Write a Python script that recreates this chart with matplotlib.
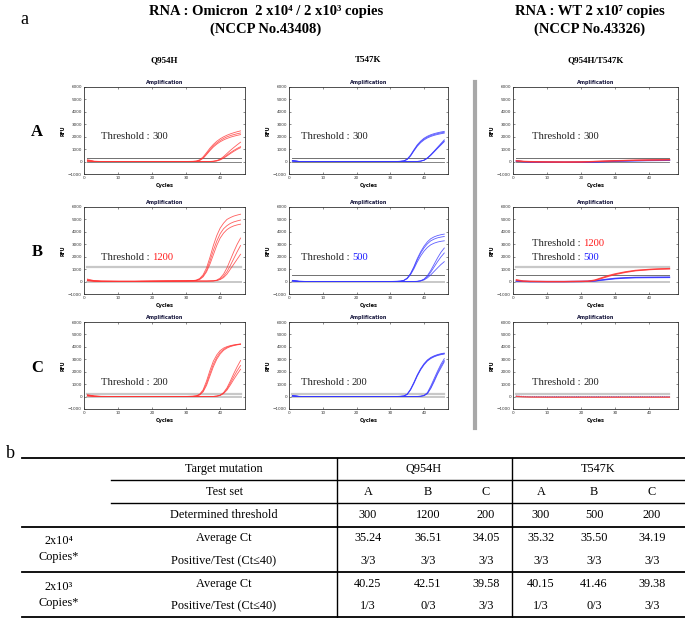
import matplotlib
matplotlib.use("Agg")
import matplotlib.pyplot as plt
from matplotlib.lines import Line2D

plt.rcParams['font.family'] = ['Liberation Serif', 'DejaVu Serif']

# ---------------- data ----------------
CYC = [1, 3, 5, 10, 15, 20, 25, 30, 32, 33, 34, 35, 36, 37, 38, 39, 40, 41, 42, 43, 44, 45, 46]
CYC_WT = [1, 3, 5, 10, 15, 20, 22, 24, 26, 28, 30, 33, 36, 40, 43, 46]

# Row A
a_q = [
    [150, 30, 10, 0, 0, 0, 0, 10, 20, 40, 150, 380, 720, 1080, 1380, 1630, 1830, 1990, 2120, 2230, 2320, 2400, 2470],
    [100, 20, 5, 0, 0, 0, 0, 5, 15, 30, 110, 300, 620, 960, 1260, 1500, 1700, 1860, 1990, 2090, 2170, 2240, 2300],
    [60, 10, 0, 0, 0, 0, 0, 5, 10, 25, 90, 260, 560, 880, 1170, 1400, 1590, 1740, 1860, 1960, 2040, 2110, 2170],
    [50, 10, 0, 0, 0, 0, 0, 0, 0, 0, 0, 0, 5, 10, 30, 80, 200, 400, 650, 900, 1130, 1350, 1560],
    [40, 10, 0, 0, 0, 0, 0, 0, 0, 0, 0, 0, 0, 5, 20, 60, 160, 320, 520, 720, 900, 1060, 1200],
    [30, 5, 0, 0, 0, 0, 0, 0, 0, 0, 0, 0, 0, 5, 15, 50, 130, 270, 450, 640, 820, 980, 1120],
]
a_t = [
    [80, 10, 0, 0, 0, 0, 0, 0, 10, 20, 60, 200, 520, 950, 1350, 1650, 1880, 2040, 2160, 2250, 2320, 2380, 2430],
    [60, 10, 0, 0, 0, 0, 0, 0, 10, 20, 50, 180, 480, 900, 1290, 1590, 1810, 1970, 2090, 2180, 2250, 2310, 2360],
    [50, 5, 0, 0, 0, 0, 0, 0, 5, 15, 45, 160, 440, 850, 1230, 1520, 1740, 1900, 2020, 2110, 2180, 2240, 2290],
    [60, 10, 0, 0, 0, 0, 0, 0, 0, 0, 0, 0, 0, 5, 10, 40, 120, 300, 560, 850, 1150, 1450, 1750],
    [50, 5, 0, 0, 0, 0, 0, 0, 0, 0, 0, 0, 0, 5, 10, 35, 110, 280, 530, 810, 1100, 1380, 1660],
    [40, 5, 0, 0, 0, 0, 0, 0, 0, 0, 0, 0, 0, 5, 10, 30, 100, 260, 500, 780, 1060, 1330, 1600],
]
a_w_red = [
    [80, 20, 0, -20, -30, -20, -10, 10, 30, 50, 70, 90, 110, 130, 140, 160],
    [50, 0, -20, -40, -50, -40, -20, 0, 20, 40, 60, 80, 100, 120, 130, 140],
]
a_w_blue = [
    [40, 0, -30, -40, -50, -50, -40, -20, 0, 20, 40, 60, 80, 100, 110, 120],
    [30, -10, -40, -50, -60, -60, -50, -40, -20, 0, 20, 40, 60, 80, 90, 100],
]

# Row B
b_q = [
    [200, 80, 40, 20, 20, 30, 40, 60, 80, 120, 250, 550, 1100, 1950, 2900, 3700, 4300, 4700, 5000, 5150, 5270, 5350, 5420],
    [150, 60, 30, 20, 20, 30, 40, 50, 70, 100, 200, 450, 900, 1650, 2500, 3250, 3850, 4250, 4500, 4680, 4800, 4880, 4950],
    [120, 50, 30, 20, 20, 30, 40, 50, 60, 90, 170, 380, 780, 1400, 2150, 2900, 3500, 3900, 4180, 4360, 4480, 4560, 4620],
    [100, 40, 20, 20, 20, 30, 40, 40, 40, 40, 40, 40, 40, 50, 60, 120, 280, 600, 1100, 1750, 2400, 3000, 3500],
    [80, 30, 20, 20, 20, 30, 40, 40, 40, 40, 40, 40, 40, 45, 55, 90, 200, 430, 800, 1300, 1850, 2400, 2900],
    [60, 30, 20, 20, 20, 30, 40, 40, 40, 40, 40, 40, 40, 45, 50, 80, 160, 320, 600, 1000, 1400, 1800, 2200],
]
b_t = [
    [100, 30, 10, 0, 0, 0, 0, 10, 20, 40, 100, 280, 650, 1200, 1850, 2400, 2850, 3200, 3450, 3600, 3700, 3770, 3820],
    [80, 20, 10, 0, 0, 0, 0, 10, 20, 35, 90, 260, 610, 1130, 1750, 2280, 2710, 3040, 3280, 3420, 3520, 3580, 3630],
    [60, 20, 5, 0, 0, 0, 0, 5, 15, 30, 80, 230, 550, 1020, 1580, 2060, 2450, 2750, 2960, 3090, 3180, 3240, 3280],
    [60, 10, 0, 0, 0, 0, 0, 0, 0, 0, 0, 0, 5, 10, 20, 70, 200, 480, 900, 1400, 1900, 2350, 2700],
    [50, 10, 0, 0, 0, 0, 0, 0, 0, 0, 0, 0, 5, 10, 15, 60, 170, 400, 760, 1180, 1600, 1980, 2300],
    [40, 5, 0, 0, 0, 0, 0, 0, 0, 0, 0, 0, 5, 10, 15, 50, 130, 300, 540, 820, 1100, 1370, 1600],
]
b_w_red = [
    [150, 40, 20, 0, 0, 20, 30, 120, 300, 480, 620, 780, 900, 980, 1020, 1050],
    [100, 30, 10, 0, 0, 10, 20, 90, 250, 420, 570, 740, 870, 960, 1000, 1020],
]
b_w_blue = [
    [50, 20, 0, 0, 0, 10, 20, 60, 130, 200, 260, 310, 340, 350, 355, 360],
    [40, 10, 0, 0, 0, 5, 15, 45, 110, 170, 230, 280, 310, 320, 325, 330],
]

# Row C
c_q = [
    [150, 50, 20, 0, 0, 0, 0, 10, 30, 60, 200, 550, 1250, 2100, 2850, 3350, 3700, 3900, 4020, 4100, 4160, 4200, 4240],
    [120, 40, 10, 0, 0, 0, 0, 10, 20, 50, 160, 450, 1050, 1850, 2600, 3150, 3550, 3800, 3960, 4060, 4130, 4180, 4220],
    [100, 30, 10, 0, 0, 0, 0, 5, 15, 40, 130, 380, 900, 1650, 2400, 3000, 3420, 3720, 3900, 4020, 4100, 4160, 4200],
    [80, 20, 0, 0, 0, 0, 0, 0, 0, 0, 0, 0, 0, 5, 10, 40, 120, 320, 700, 1250, 1850, 2400, 2900],
    [60, 20, 0, 0, 0, 0, 0, 0, 0, 0, 0, 0, 0, 5, 10, 30, 100, 270, 600, 1080, 1600, 2080, 2500],
    [50, 10, 0, 0, 0, 0, 0, 0, 0, 0, 0, 0, 0, 5, 10, 30, 90, 240, 520, 930, 1380, 1800, 2200],
]
c_t = [
    [80, 20, 0, 0, 0, 0, 0, 0, 10, 20, 50, 200, 600, 1150, 1750, 2250, 2650, 2950, 3150, 3280, 3380, 3450, 3500],
    [60, 10, 0, 0, 0, 0, 0, 0, 10, 20, 45, 180, 560, 1100, 1700, 2200, 2600, 2900, 3100, 3240, 3340, 3410, 3460],
    [50, 10, 0, 0, 0, 0, 0, 0, 5, 15, 40, 160, 520, 1050, 1650, 2150, 2550, 2860, 3060, 3200, 3300, 3370, 3420],
    [60, 10, 0, 0, 0, 0, 0, 0, 0, 0, 0, 0, 0, 0, 10, 30, 100, 320, 850, 1450, 2050, 2600, 3050],
    [50, 10, 0, 0, 0, 0, 0, 0, 0, 0, 0, 0, 0, 0, 8, 25, 80, 260, 720, 1300, 1900, 2450, 2900],
    [40, 5, 0, 0, 0, 0, 0, 0, 0, 0, 0, 0, 0, 0, 5, 20, 70, 230, 650, 1200, 1800, 2300, 2800],
]
c_w_red = [
    [20, -20, -40, -50, -50, -50, -50, -50, -50, -50, -50, -50, -50, -50, -50, -50],
]
c_w_blue = [
    [60, 20, 0, 0, 10, 0, 0, 10, 0, 0, 10, 0, 0, 10, 0, 0],
]

ROW_NAMES = ['A', 'B', 'C']
COL_TITLES = ['Q954H', 'T547K', 'Q954H/T547K']
THRESHOLDS = [
    [[300], [300], [300]],
    [[1200], [500], [1200, 500]],
    [[200], [200], [200]],
]
THR_LABEL_KEY = [
    [['k'], ['k'], ['k']],
    [['r'], ['b'], ['r', 'b']],
    [['k'], ['k'], ['k']],
]

# table
TBL_TARGETS = ['Q954H', 'T547K']
TBL_SETS = ['A', 'B', 'C', 'A', 'B', 'C']
TBL_THRESH = ['300', '1200', '200', '300', '500', '200']
TBL_CT_E4 = ['35.24', '36.51', '34.05', '35.32', '35.50', '34.19']
TBL_POS_E4 = ['3/3', '3/3', '3/3', '3/3', '3/3', '3/3']
TBL_CT_E3 = ['40.25', '42.51', '39.58', '40.15', '41.46', '39.38']
TBL_POS_E3 = ['1/3', '0/3', '3/3', '1/3', '0/3', '3/3']

# ---------------- layout helpers ----------------
W, H = 685, 618
fig = plt.figure(figsize=(W / 100, H / 100), dpi=100)


def fx(px):
    return px / W


def fy(py):
    return 1 - py / H


RED = '#ff3535'
BLUE = '#3535ff'
DARKGRAY = '#707070'
LIGHTGRAY = '#c8c8c8'
NUMCOL = {'k': '#222222', 'r': '#ff1a1a', 'b': '#1a1aff'}

col_px = [(84, 245), (289, 448), (513, 678)]
row_px = [(87, 174), (207, 294), (322, 409)]
xright = [47.3, 47.1, 48.5]

panel_data = [
    [(a_q, RED, CYC), (a_t, BLUE, CYC), None],
    [(b_q, RED, CYC), (b_t, BLUE, CYC), None],
    [(c_q, RED, CYC), (c_t, BLUE, CYC), None],
]
wt_data = [(a_w_red, a_w_blue), (b_w_red, b_w_blue), (c_w_red, c_w_blue)]

text_x = [5.0, 3.5, 5.7]
text_y = [[2000], [1900], [1170]]

for r in range(3):
    for c in range(3):
        x0, x1 = col_px[c]
        y0, y1 = row_px[r]
        ax = fig.add_axes([fx(x0), fy(y1), (x1 - x0) / W, (y1 - y0) / H])
        ax.set_xlim(0, xright[c])
        ax.set_ylim(-1000, 6000)
        ax.set_xticks([0, 10, 20, 30, 40])
        ax.set_yticks(list(range(-1000, 6001, 1000)))
        ax.tick_params(labelsize=3, length=1.5, width=0.4, pad=1.5, direction='in',
                       top=True, right=True, colors='#333333')
        for sp in ax.spines.values():
            sp.set_linewidth(0.6)
            sp.set_color('#333333')
        ax.set_title('Amplification', fontsize=3.6, fontweight='bold', pad=2,
                     family=['DejaVu Sans'], color='#1a1a40')
        ax.set_xlabel('Cycles', fontsize=3.6, fontweight='bold', labelpad=2,
                      family=['DejaVu Sans'])
        ax.set_ylabel('RFU', fontsize=3.4, fontweight='bold', labelpad=2,
                      family=['DejaVu Sans'])
        for t in ax.get_xticklabels() + ax.get_yticklabels():
            t.set_family(['DejaVu Sans'])

        if r == 0:
            ax.plot([1, 46], [0, 0], color=DARKGRAY, lw=0.6, zorder=1)
        else:
            ax.plot([1, 46], [0, 0], color=LIGHTGRAY, lw=1.4, zorder=1)

        for val in THRESHOLDS[r][c]:
            light = (r == 2) or (r == 1 and val == 1200)
            if light:
                ax.plot([1, 46], [val, val], color=LIGHTGRAY, lw=1.6, zorder=1)
            else:
                ax.plot([1, 46], [val, val], color=DARKGRAY, lw=0.7, zorder=1)

        if c < 2:
            curves, colr, cyc = panel_data[r][c]
            for cv in curves:
                ax.plot(cyc, cv, color=colr, lw=0.6, alpha=0.8, zorder=2)
        else:
            reds, blues = wt_data[r]
            for cv in blues:
                ax.plot(CYC_WT, cv, color=BLUE, lw=0.9 if r < 2 else 0.6,
                        alpha=0.85, zorder=2, ls='-' if r < 2 else ':')
            for cv in reds:
                ax.plot(CYC_WT, cv, color=RED, lw=0.9, alpha=0.85, zorder=3)

        if r == 1 and c == 2:
            ys = [3100, 1900]
        else:
            ys = text_y[r]
        for val, key, yy in zip(THRESHOLDS[r][c], THR_LABEL_KEY[r][c], ys):
            t1 = ax.text(text_x[c], yy, 'Threshold : ', fontsize=7.6,
                         color='#222222', va='center', ha='left', zorder=5)
            ax.annotate(str(val), xy=(1, 0), xycoords=t1, va='bottom', ha='left',
                        fontsize=7.6, color=NUMCOL[key], zorder=5)

for r, name in enumerate(ROW_NAMES):
    fig.text(fx(37), fy((row_px[r][0] + row_px[r][1]) / 2 + 2), name, fontsize=12,
             fontweight='bold', ha='center', va='center')

for c, name in enumerate(COL_TITLES):
    fig.text(fx((col_px[c][0] + col_px[c][1]) / 2), fy(60), name, fontsize=6.5,
             fontweight='bold', ha='center', va='center')

fig.text(fx(24), fy(20), 'a', fontsize=13, ha='center', va='center')
fig.text(fx(266), fy(11), 'RNA : Omicron  2 x10\u2074 / 2 x10\u00b3 copies', fontsize=10.5,
         fontweight='bold', ha='center', va='center')
fig.text(fx(266), fy(29), '(NCCP No.43408)', fontsize=10.5, fontweight='bold',
         ha='center', va='center')
fig.text(fx(590), fy(11), 'RNA : WT 2 x10\u2077 copies', fontsize=10.5,
         fontweight='bold', ha='center', va='center')
fig.text(fx(590), fy(29), '(NCCP No.43326)', fontsize=10.5, fontweight='bold',
         ha='center', va='center')

fig.add_artist(Line2D([fx(475), fx(475)], [fy(82), fy(428)], color='#a8a8a8', lw=3))

# ---------------- table ----------------
fig.text(fx(10), fy(454), 'b', fontsize=13, ha='center', va='center')


def hline(y, x0, x1, lw):
    fig.add_artist(Line2D([fx(x0), fx(x1)], [fy(y), fy(y)], color='black', lw=lw))


def vline(x, y0, y1, lw):
    fig.add_artist(Line2D([fx(x), fx(x)], [fy(y0), fy(y1)], color='black', lw=lw))


hline(458, 22, 685, 1.3)
hline(480, 111, 685, 1.0)
hline(503, 111, 685, 1.0)
hline(527, 22, 685, 1.3)
hline(572, 22, 685, 1.3)
hline(617, 22, 685, 1.3)
vline(337, 458, 617, 1.0)
vline(512, 458, 617, 1.0)

col_x = [368, 428, 486, 541, 594, 652]
row_y = [469, 492, 515, 538, 561, 584, 606]
TS = 8.8


def ctext(x, y, s):
    fig.text(fx(x), fy(y), s, fontsize=TS, ha='center', va='center')


ctext(224, row_y[0], 'Target mutation')
ctext(424, row_y[0], TBL_TARGETS[0])
ctext(598, row_y[0], TBL_TARGETS[1])
ctext(224, row_y[1], 'Test set')
ctext(224, row_y[2], 'Determined threshold')
ctext(224, row_y[3], 'Average Ct')
ctext(224, row_y[4], 'Positive/Test (Ct\u226440)')
ctext(224, row_y[5], 'Average Ct')
ctext(224, row_y[6], 'Positive/Test (Ct\u226440)')
for i in range(6):
    ctext(col_x[i], row_y[1], TBL_SETS[i])
    ctext(col_x[i], row_y[2], TBL_THRESH[i])
    ctext(col_x[i], row_y[3], TBL_CT_E4[i])
    ctext(col_x[i], row_y[4], TBL_POS_E4[i])
    ctext(col_x[i], row_y[5], TBL_CT_E3[i])
    ctext(col_x[i], row_y[6], TBL_POS_E3[i])

ctext(59, 541, '2x10\u2074')
ctext(59, 557, 'Copies*')
ctext(59, 587, '2x10\u00b3')
ctext(59, 603, 'Copies*')

fig.savefig('out.png', dpi=100)
